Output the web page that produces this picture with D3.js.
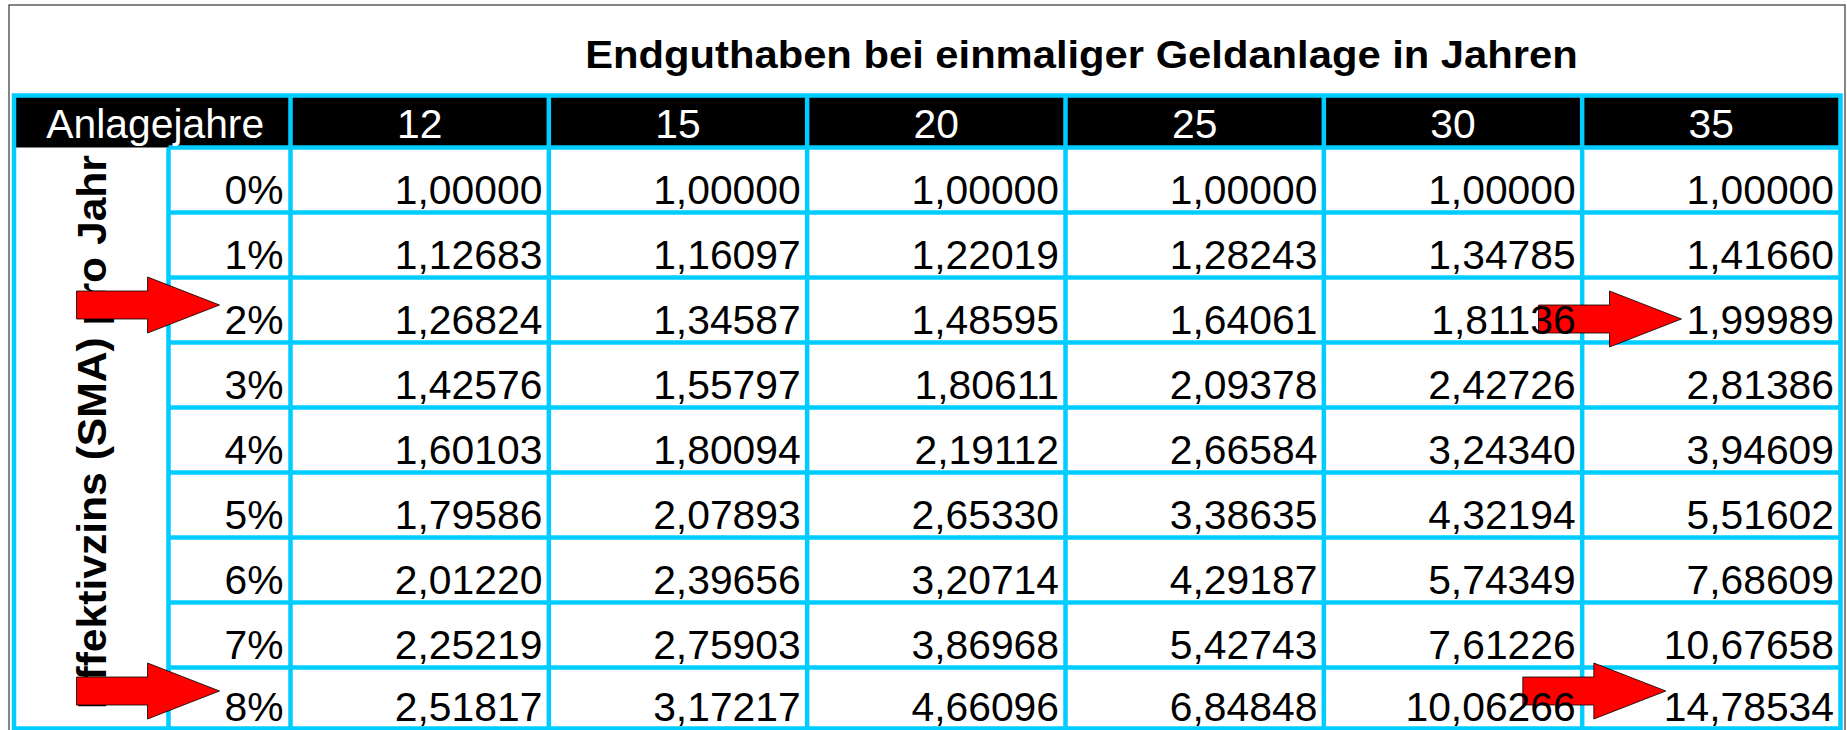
<!DOCTYPE html>
<html>
<head>
<meta charset="utf-8">
<script src="https://cdn.jsdelivr.net/npm/d3@7"></script>
<style>
  html, body { margin: 0; padding: 0; background: #ffffff; }
  #chart { width: 1847px; height: 730px; }
</style>
</head>
<body>
<div id="chart"></div>
<script>
// Table contents
const titleText = "Endguthaben bei einmaliger Geldanlage in Jahren";
const cornerLabel = "Anlagejahre";
const rowTitle = "Effektivzins (SMA) pro Jahr";

const years = [12, 15, 20, 25, 30, 35];
const rates = ["0%", "1%", "2%", "3%", "4%", "5%", "6%", "7%", "8%"];

// one array per investment period, one value per rate
const factor12 = [1.00000, 1.12683, 1.26824, 1.42576, 1.60103, 1.79586, 2.01220, 2.25219, 2.51817];
const factor15 = [1.00000, 1.16097, 1.34587, 1.55797, 1.80094, 2.07893, 2.39656, 2.75903, 3.17217];
const factor20 = [1.00000, 1.22019, 1.48595, 1.80611, 2.19112, 2.65330, 3.20714, 3.86968, 4.66096];
const factor25 = [1.00000, 1.28243, 1.64061, 2.09378, 2.66584, 3.38635, 4.29187, 5.42743, 6.84848];
const factor30 = [1.00000, 1.34785, 1.81136, 2.42726, 3.24340, 4.32194, 5.74349, 7.61226, 10.06266];
const factor35 = [1.00000, 1.41660, 1.99989, 2.81386, 3.94609, 5.51602, 7.68609, 10.67658, 14.78534];

// red arrows point at these cells ("rate" = the percent column)
const arrowTargets = [
  { rate: "2%", column: "rate" },
  { rate: "2%", column: 35 },
  { rate: "8%", column: "rate" },
  { rate: "8%", column: 35 }
];

const seriesByYear = new Map([
  [12, factor12], [15, factor15], [20, factor20],
  [25, factor25], [30, factor30], [35, factor35]
]);

const width = 1847;
const height = 730;
const cyan = "#00ccff";
const lineW = 4.5;
const fontFamily = "'Liberation Sans', Arial, Helvetica, sans-serif";
const cellK = 1.02;   // source text is a touch wider than plain Arial
const boldK = 1.065;

const tableLeft = 14, tableRight = 1840.5;
const tableTop = 95.5, headBottom = 147.5, tableBottom = 728.5;
const labelColRight = 168.5;   // vertical label column
const rateColRight = 290.5;    // percent column
const rowH = 65;

const fmt = d3.formatLocale({ decimal: ",", thousands: ".", grouping: [3], currency: ["", "€"] }).format(".5f");

const x = d3.scaleBand().domain(years).range([rateColRight, tableRight]).paddingInner(0).paddingOuter(0);
const y = d3.scaleBand().domain(rates).range([headBottom, headBottom + rowH * rates.length]).padding(0);

// the last row is cut by the picture edge, keep its baseline inside
const baseline = (rate) => Math.min(y(rate) + y.bandwidth() - 8.5, tableBottom - 7.5);

function stretch(sel, k) {
  sel.each(function () {
    const w = this.getComputedTextLength();
    this.setAttribute("textLength", w * k);
    this.setAttribute("lengthAdjust", "spacingAndGlyphs");
  });
}

const svg = d3.select("#chart").append("svg")
  .attr("width", width)
  .attr("height", height)
  .attr("viewBox", `0 0 ${width} ${height}`);

// outer grey frame
svg.append("rect")
  .attr("x", 9).attr("y", 5)
  .attr("width", 1836).attr("height", 740)
  .attr("fill", "#ffffff")
  .attr("stroke", "#444444")
  .attr("stroke-width", 1.3);

// title
const title = svg.append("text")
  .attr("x", 1081.5)
  .attr("y", 68)
  .attr("text-anchor", "middle")
  .attr("font-family", fontFamily)
  .attr("font-size", 39)
  .attr("font-weight", 700)
  .attr("fill", "#000000")
  .text(titleText);
stretch(title, 1.07);

// black header band
svg.append("rect")
  .attr("x", tableLeft).attr("y", tableTop)
  .attr("width", tableRight - tableLeft).attr("height", headBottom - tableTop)
  .attr("fill", "#000000");

// grid
const grid = svg.append("g")
  .attr("stroke", cyan)
  .attr("stroke-width", lineW)
  .attr("fill", "none");

grid.selectAll("line.row")
  .data(rates.slice(1))
  .join("line")
  .attr("class", "row")
  .attr("x1", labelColRight).attr("x2", tableRight)
  .attr("y1", (d) => y(d)).attr("y2", (d) => y(d));

grid.append("line")
  .attr("x1", labelColRight).attr("x2", tableRight)
  .attr("y1", headBottom).attr("y2", headBottom);

grid.append("line")
  .attr("x1", labelColRight).attr("x2", labelColRight)
  .attr("y1", headBottom).attr("y2", tableBottom);

grid.selectAll("line.col")
  .data(years)
  .join("line")
  .attr("class", "col")
  .attr("x1", (d) => x(d)).attr("x2", (d) => x(d))
  .attr("y1", tableTop).attr("y2", tableBottom);

grid.append("rect")
  .attr("x", tableLeft).attr("y", tableTop)
  .attr("width", tableRight - tableLeft).attr("height", tableBottom - tableTop);

// rotated row title
const rowTitleText = svg.append("text")
  .attr("transform", `translate(106,432) rotate(-90)`)
  .attr("text-anchor", "middle")
  .attr("font-family", fontFamily)
  .attr("font-size", 40)
  .attr("font-weight", 700)
  .attr("fill", "#000000")
  .text(rowTitle);
stretch(rowTitleText, boldK);

// cell texts are drawn first so arrows can stop right before them
const cellLayer = svg.append("g");

const headerTexts = cellLayer.append("g")
  .attr("font-family", fontFamily)
  .attr("font-size", 40)
  .attr("fill", "#ffffff")
  .attr("text-anchor", "middle");

headerTexts.selectAll("text")
  .data(years)
  .join("text")
  .attr("x", (d) => x(d) + x.bandwidth() / 2)
  .attr("y", headBottom - 9.5)
  .text((d) => d)
  .call(stretch, cellK);

headerTexts.append("text")
  .attr("x", (tableLeft + rateColRight) / 2 + 3)
  .attr("y", headBottom - 9.5)
  .text(cornerLabel)
  .call(stretch, cellK);

const rateTexts = cellLayer.append("g")
  .attr("font-family", fontFamily)
  .attr("font-size", 40)
  .attr("fill", "#000000")
  .attr("text-anchor", "end")
  .selectAll("text")
  .data(rates)
  .join("text")
  .attr("x", rateColRight - 7)
  .attr("y", (d) => baseline(d))
  .text((d) => d)
  .call(stretch, cellK);

const cells = years.flatMap((yr) =>
  seriesByYear.get(yr).map((v, i) => ({ year: yr, rate: rates[i], value: v }))
);

const valueTexts = cellLayer.append("g")
  .attr("font-family", fontFamily)
  .attr("font-size", 40)
  .attr("fill", "#000000")
  .attr("text-anchor", "end")
  .selectAll("text")
  .data(cells)
  .join("text")
  .attr("x", (d) => x(d.year) + x.bandwidth() - 6.5)
  .attr("y", (d) => baseline(d.rate))
  .text((d) => fmt(d.value))
  .call(stretch, cellK);

// arrows sit under the cell texts but above the grid
const arrowNudge = [-5, 9, -9, -9];
const arrowGap = [5, 5, 5, -2];
const arrowPath = "M0,0 L-72,-28 L-72,-14 L-143,-14 L-143,14 L-72,14 L-72,28 Z";

function textStart(target) {
  if (target.column === "rate") {
    const node = rateTexts.filter((d) => d === target.rate).node();
    return rateColRight - 7 - node.getComputedTextLength();
  }
  const node = valueTexts.filter((d) => d.rate === target.rate && d.year === target.column).node();
  return x(target.column) + x.bandwidth() - 6.5 - node.getComputedTextLength();
}

const arrowLayer = svg.insert("g", () => cellLayer.node());

arrowLayer.selectAll("path")
  .data(arrowTargets)
  .join("path")
  .attr("transform", (d, i) =>
    `translate(${textStart(d) - arrowGap[i]},${y(d.rate) + y.bandwidth() / 2 + arrowNudge[i]})`)
  .attr("d", arrowPath)
  .attr("fill", "#ff0000")
  .attr("stroke", "#000000")
  .attr("stroke-width", 0.8);
</script>
</body>
</html>
